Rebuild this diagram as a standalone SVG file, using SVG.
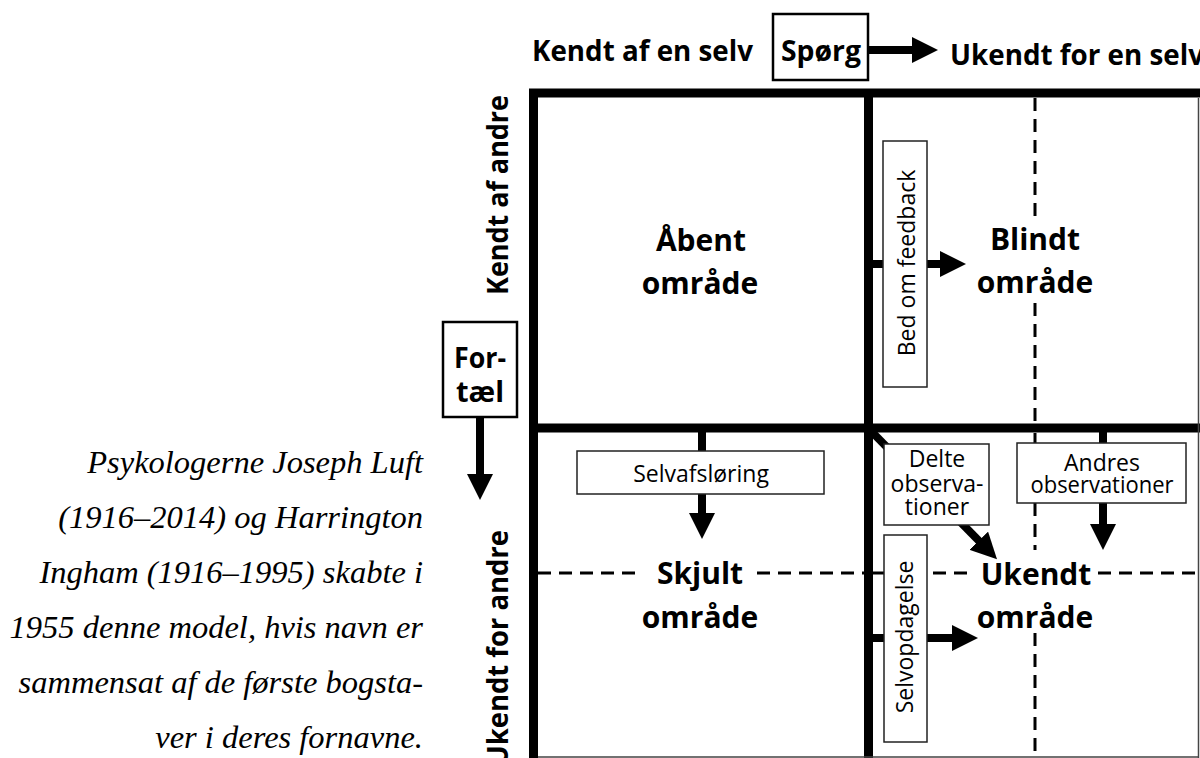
<svg xmlns="http://www.w3.org/2000/svg" width="1200" height="758" viewBox="0 0 1200 758">
  <style>
    .frame { stroke: #000; stroke-width: 9; fill: none; stroke-linecap: square; }
    .thin { stroke: #444; stroke-width: 1.5; fill: none; }
    .dash { stroke: #000; stroke-width: 3; fill: none; stroke-dasharray: 13 8; }
    .arr { stroke: #000; stroke-width: 8; fill: none; }
    .box { fill: #fff; stroke: #222; stroke-width: 1.5; }
    .bigbox { fill: #fff; stroke: #000; stroke-width: 2.5; }
    .hdr { font-family: "Open Sans", "Liberation Sans", sans-serif; font-weight: 700; font-size: 29px; fill: #000; }
    .quad { font-family: "Open Sans", "Liberation Sans", sans-serif; font-weight: 700; font-size: 30px; fill: #000; text-anchor: middle; }
    .lbl { font-family: "Open Sans", "Liberation Sans", sans-serif; font-size: 23px; fill: #000; text-anchor: middle; }
    .para { font-family: "Liberation Serif", "Times New Roman", serif; font-style: italic; font-size: 32.5px; fill: #000; text-anchor: end; }
  </style>
  <defs>
    <marker id="ah" viewBox="0 0 26 26" markerWidth="26" markerHeight="26" refX="6" refY="13" markerUnits="userSpaceOnUse" orient="auto">
      <path d="M0,0 L26,13 L0,26 Z" fill="#000"/>
    </marker>
  </defs>

  <rect width="1200" height="758" fill="#fff"/>

  <!-- frame -->
  <g id="frame">
    <path class="frame" d="M533.5,93 H1200 M533.5,93 V758 M868.5,93 V758 M533.5,428 H1200"/>
    <path class="thin" d="M1198.5,98 V758 M538,757 H1198"/>
    <path class="dash" d="M1035,98 V223 M1035,303 V423 M1035,433 V443 M1035,503 V550 M1035,633 V758"/>
    <path class="dash" d="M538,573 H640 M757,573 H864 M873,573 H884 M933,573 H975 M1098,573 H1198"/>
  </g>

  <!-- connectors -->
  <g id="connectors">
    <path class="arr" d="M868,50 H918" marker-end="url(#ah)"/>
    <path class="arr" d="M480,417 V480" marker-end="url(#ah)"/>
    <path class="arr" d="M873,264 H884"/>
    <path class="arr" d="M927,264 H946" marker-end="url(#ah)"/>
    <path class="arr" d="M702,432 V452"/>
    <path class="arr" d="M702,494 V519" marker-end="url(#ah)"/>
    <path class="arr" d="M871,431 L983,545" marker-end="url(#ah)"/>
    <path class="arr" d="M1103,432 V444"/>
    <path class="arr" d="M1103,503 V530" marker-end="url(#ah)"/>
    <path class="arr" d="M873,638 H885"/>
    <path class="arr" d="M927,638 H958" marker-end="url(#ah)"/>
  </g>

  <!-- axis labels -->
  <g id="axis-top-left"><text class="hdr" x="532" y="61" textLength="221" lengthAdjust="spacingAndGlyphs">Kendt af en selv</text></g>
  <g id="axis-top-right"><text class="hdr" x="950" y="65" textLength="254" lengthAdjust="spacingAndGlyphs">Ukendt for en selv</text></g>
  <g id="axis-left-top"><text class="hdr" transform="translate(508,195) rotate(-90)" text-anchor="middle" textLength="200" lengthAdjust="spacingAndGlyphs">Kendt af andre</text></g>
  <g id="axis-left-bottom"><text class="hdr" transform="translate(508,530) rotate(-90)" text-anchor="end" textLength="236" lengthAdjust="spacingAndGlyphs">Ukendt for andre</text></g>

  <!-- action boxes -->
  <g id="spoerg">
    <rect class="bigbox" x="773" y="14" width="95" height="66"/>
    <text class="hdr" x="821" y="61" text-anchor="middle" textLength="80" lengthAdjust="spacingAndGlyphs">Spørg</text>
  </g>
  <g id="fortael">
    <rect class="bigbox" x="443" y="322" width="74" height="95"/>
    <text class="hdr" x="480" y="368" text-anchor="middle" textLength="52" lengthAdjust="spacingAndGlyphs">For-</text>
    <text class="hdr" x="480" y="402" text-anchor="middle">tæl</text>
  </g>

  <!-- quadrants -->
  <g id="aabent">
    <text class="quad" x="701" y="251">Åbent</text>
    <text class="quad" x="700" y="294">område</text>
  </g>
  <g id="blindt">
    <text class="quad" x="1035" y="250">Blindt</text>
    <text class="quad" x="1035" y="293">område</text>
  </g>
  <g id="skjult">
    <text class="quad" x="700" y="584">Skjult</text>
    <text class="quad" x="700" y="628">område</text>
  </g>
  <g id="ukendt">
    <text class="quad" x="1036" y="585">Ukendt</text>
    <text class="quad" x="1035" y="628">område</text>
  </g>

  <!-- small labelled boxes -->
  <g id="bed-om-feedback">
    <rect class="box" x="883" y="141" width="44" height="246"/>
    <text class="lbl" transform="translate(915,263) rotate(-90)">Bed om feedback</text>
  </g>
  <g id="selvafsloering">
    <rect class="box" x="577" y="451" width="247" height="43"/>
    <text class="lbl" x="701" y="482">Selvafsløring</text>
  </g>
  <g id="delte-observationer">
    <rect class="box" x="884" y="444" width="105" height="81"/>
    <text class="lbl" x="937" y="467">Delte</text>
    <text class="lbl" x="937" y="492">observa-</text>
    <text class="lbl" x="937" y="515">tioner</text>
  </g>
  <g id="andres-observationer">
    <rect class="box" x="1017" y="443" width="169" height="60"/>
    <text class="lbl" x="1102" y="471">Andres</text>
    <text class="lbl" x="1102" y="493" textLength="143" lengthAdjust="spacingAndGlyphs">observationer</text>
  </g>
  <g id="selvopdagelse">
    <rect class="box" x="884" y="535" width="43" height="207"/>
    <text class="lbl" transform="translate(913,637) rotate(-90)">Selvopdagelse</text>
  </g>

  <!-- caption -->
  <g id="caption">
    <text class="para" x="423" y="473">Psykologerne Joseph Luft</text>
    <text class="para" x="423" y="528">(1916–2014) og Harrington</text>
    <text class="para" x="423" y="583">Ingham (1916–1995) skabte i</text>
    <text class="para" x="423" y="638">1955 denne model, hvis navn er</text>
    <text class="para" x="423" y="693">sammensat af de første bogsta-</text>
    <text class="para" x="423" y="748">ver i deres fornavne.</text>
  </g>
</svg>
